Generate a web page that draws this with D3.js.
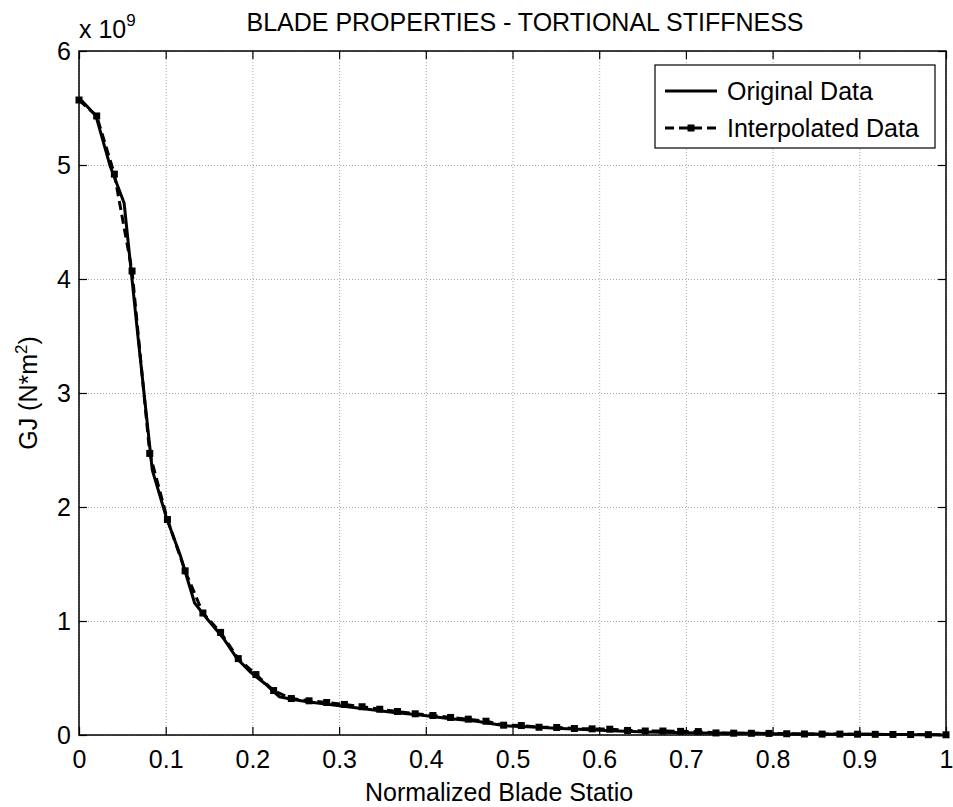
<!DOCTYPE html>
<html>
<head>
<meta charset="utf-8">
<script src="https://cdn.jsdelivr.net/npm/d3@7"></script>
<style>
    body { margin: 0; background: #fff; }
    text { font-family: 'Liberation Sans', Arial, sans-serif; fill: #000; }
    .axis path { display: none; }
    .axis line { stroke: #000; stroke-width: 1.2; }
    .axis text { font-size: 25px; }
    .grid line { stroke: #a8a8a8; stroke-width: 1; stroke-dasharray: 1, 2; }
</style>
</head>
<body>
<div id="chart"></div>
<script>
// Define SVG area
let svgWidth = 953
let svgHeight = 807

let margin = {
    top: 51,
    right: 7,
    bottom: 72,
    left: 79
}

let chartWidth = svgWidth - margin.left - margin.right
let chartHeight = svgHeight - margin.top - margin.bottom

// original blade stations (normalized) and GJ, in units of 1e9 N*m^2
let origStation = [0, 0.00325, 0.01951, 0.03577, 0.05203, 0.06829, 0.08455, 0.10081, 0.11707, 0.13335,
    0.14959, 0.16585, 0.18211, 0.19837, 0.21465, 0.23089, 0.24715, 0.26341, 0.29595, 0.32846,
    0.36098, 0.39350, 0.42602, 0.45855, 0.49106, 0.52358, 0.55610, 0.58862, 0.62115, 0.65366,
    0.68618, 0.71870, 0.75122, 0.78374, 0.81626, 0.84878, 0.88130, 0.89756, 0.91382, 0.93008,
    0.93821, 0.94636, 0.95447, 0.96260, 0.97073, 0.97886, 0.98699, 0.99512, 1]
let origGJ = [5.5644, 5.5644, 5.4316, 4.9940, 4.6666, 3.4747, 2.3240, 1.9070, 1.5700, 1.1581,
    1.0024, 0.8556, 0.6723, 0.5474, 0.4494, 0.3361, 0.3119, 0.2920, 0.2614, 0.2295,
    0.2001, 0.1749, 0.1448, 0.1198, 0.0812, 0.0691, 0.0575, 0.0459, 0.0360, 0.0274,
    0.0209, 0.0185, 0.0163, 0.0145, 0.0091, 0.0081, 0.0071, 0.0061, 0.0058, 0.0053,
    0.0049, 0.0042, 0.0037, 0.0031, 0.0026, 0.0022, 0.0016, 0.0001, 0.0000]

// interpolated stations and GJ (1e9 N*m^2)
let interpStation = [0, 0.0204, 0.0408, 0.0612, 0.0816, 0.1020, 0.1224, 0.1429, 0.1633, 0.1837,
    0.2041, 0.2245, 0.2449, 0.2653, 0.2857, 0.3061, 0.3265, 0.3469, 0.3673, 0.3878,
    0.4082, 0.4286, 0.4490, 0.4694, 0.4898, 0.5102, 0.5306, 0.5510, 0.5714, 0.5918,
    0.6122, 0.6327, 0.6531, 0.6735, 0.6939, 0.7143, 0.7347, 0.7551, 0.7755, 0.7959,
    0.8163, 0.8367, 0.8571, 0.8776, 0.8980, 0.9184, 0.9388, 0.9592, 0.9796, 1]
let interpGJ = [5.57, 5.43, 4.92, 4.07, 2.47, 1.89, 1.44, 1.07, 0.90, 0.67,
    0.53, 0.39, 0.32, 0.30, 0.285, 0.268, 0.248, 0.226, 0.206, 0.186,
    0.171, 0.154, 0.139, 0.121, 0.086, 0.083, 0.068, 0.066, 0.057, 0.054,
    0.051, 0.040, 0.035, 0.035, 0.032, 0.030, 0.018, 0.016, 0.015, 0.014,
    0.011, 0.009, 0.008, 0.008, 0.007, 0.006, 0.005, 0.004, 0.003, 0.002]

let xTicks = [0, 0.1, 0.2, 0.3, 0.4, 0.5, 0.6, 0.7, 0.8, 0.9, 1]
let yTicks = [0, 1, 2, 3, 4, 5, 6]
let legendLabels = ['Original Data', 'Interpolated Data']

let svg = d3.select('#chart')
    .append('svg')
    .attr('width', svgWidth)
    .attr('height', svgHeight)

let chartGroup = svg.append('g')
    .attr('transform', `translate(${margin.left}, ${margin.top})`)

let xScale = d3.scaleLinear().domain([0, 1]).range([0, chartWidth])
let yScale = d3.scaleLinear().domain([0, 6]).range([chartHeight, 0])
let fmt = d3.format('~g')

// grid
chartGroup.append('g')
    .classed('grid', true)
    .attr('transform', `translate(0, ${chartHeight})`)
    .call(d3.axisBottom(xScale).tickValues(xTicks).tickSize(-chartHeight).tickFormat(''))
    .call(g => g.select('.domain').remove())

chartGroup.append('g')
    .classed('grid', true)
    .call(d3.axisLeft(yScale).tickValues(yTicks).tickSize(-chartWidth).tickFormat(''))
    .call(g => g.select('.domain').remove())

// axes, ticks pointing inward on all four sides
chartGroup.append('g')
    .classed('axis', true)
    .attr('transform', `translate(0, ${chartHeight})`)
    .call(d3.axisBottom(xScale).tickValues(xTicks).tickSize(-8).tickPadding(15).tickFormat(fmt))

chartGroup.append('g')
    .classed('axis', true)
    .call(d3.axisTop(xScale).tickValues(xTicks).tickSize(-8).tickFormat(''))

chartGroup.append('g')
    .classed('axis', true)
    .call(d3.axisLeft(yScale).tickValues(yTicks).tickSize(-8).tickPadding(8).tickFormat(fmt))

chartGroup.append('g')
    .classed('axis', true)
    .attr('transform', `translate(${chartWidth}, 0)`)
    .call(d3.axisRight(yScale).tickValues(yTicks).tickSize(-8).tickFormat(''))

// series
let origData = origStation.map((s, i) => [s, origGJ[i]])
let interpData = interpStation.map((s, i) => [s, interpGJ[i]])

let line = d3.line()
    .x(d => xScale(d[0]))
    .y(d => yScale(d[1]))

chartGroup.append('path')
    .datum(origData)
    .attr('fill', 'none')
    .attr('stroke', '#000')
    .attr('stroke-width', 3)
    .attr('stroke-linejoin', 'round')
    .attr('d', line)

chartGroup.append('path')
    .datum(interpData)
    .attr('fill', 'none')
    .attr('stroke', '#000')
    .attr('stroke-width', 3)
    .attr('stroke-dasharray', '9,5')
    .attr('d', line)

let sq = 7
chartGroup.selectAll('rect.marker')
    .data(interpData)
    .enter()
    .append('rect')
    .classed('marker', true)
    .attr('x', d => xScale(d[0]) - sq / 2)
    .attr('y', d => yScale(d[1]) - sq / 2)
    .attr('width', sq)
    .attr('height', sq)
    .attr('fill', '#000')

// plot box
chartGroup.append('rect')
    .attr('width', chartWidth)
    .attr('height', chartHeight)
    .attr('fill', 'none')
    .attr('stroke', '#000')
    .attr('stroke-width', 1.5)

// legend
let legend = svg.append('g')
    .attr('transform', 'translate(655, 65)')

legend.append('rect')
    .attr('width', 280)
    .attr('height', 83)
    .attr('fill', '#fff')
    .attr('stroke', '#000')
    .attr('stroke-width', 1.2)

legendLabels.forEach((label, i) => {
    let ly = 26 + i * 37
    legend.append('line')
        .attr('x1', 10)
        .attr('x2', 62)
        .attr('y1', ly)
        .attr('y2', ly)
        .attr('stroke', '#000')
        .attr('stroke-width', 3)
        .attr('stroke-dasharray', i === 0 ? null : '9,5')
    if (i === 1) {
        legend.append('rect')
            .attr('x', 36 - sq / 2)
            .attr('y', ly - sq / 2)
            .attr('width', sq)
            .attr('height', sq)
            .attr('fill', '#000')
    }
    legend.append('text')
        .attr('x', 72)
        .attr('y', ly + 9)
        .style('font-size', '25px')
        .text(label)
})

// title, labels, exponent
svg.append('text')
    .attr('x', 525)
    .attr('y', 31)
    .attr('text-anchor', 'middle')
    .style('font-size', '25px')
    .text('BLADE PROPERTIES - TORTIONAL STIFFNESS')

svg.append('text')
    .attr('x', 365)
    .attr('y', 801)
    .style('font-size', '25px')
    .text('Normalized Blade Statio')

let yLabel = svg.append('text')
    .attr('transform', `translate(37, ${margin.top + chartHeight / 2}) rotate(-90)`)
    .attr('text-anchor', 'middle')
    .style('font-size', '25px')
yLabel.append('tspan').text('GJ (N*m')
yLabel.append('tspan').attr('dy', -10).style('font-size', '17px').text('2')
yLabel.append('tspan').attr('dy', 10).text(')')

let expLabel = svg.append('text')
    .attr('x', 79)
    .attr('y', 38)
    .style('font-size', '25px')
expLabel.append('tspan').text('x 10')
expLabel.append('tspan').attr('dy', -12).style('font-size', '17px').text('9')
</script>
</body>
</html>
